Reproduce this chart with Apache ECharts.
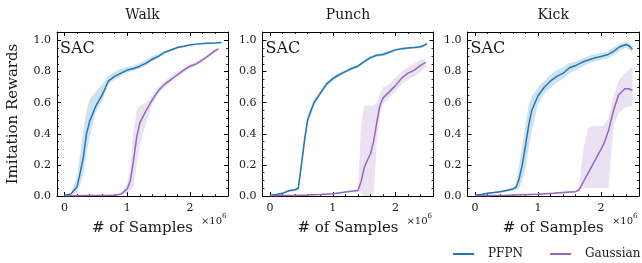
<!DOCTYPE html>
<html><head><meta charset="utf-8">
<script src="https://cdn.jsdelivr.net/npm/echarts@6/dist/echarts.min.js"></script>
<style>html,body{margin:0;padding:0;background:#fff}#c{width:642px;height:263px}</style>
</head><body><div id="c"></div>
<script>
// ---------- data ----------
const panelTitles = ['Walk', 'Punch', 'Kick'];
const seriesNames = ['PFPN', 'Gaussian'];
const xMajorTicks = [0, 1, 2];
const xMinorTicks = [0.2, 0.4, 0.6, 0.8, 1.2, 1.4, 1.6, 1.8, 2.2, 2.4];
const yMajorTicks = [0, 0.2, 0.4, 0.6, 0.8, 1.0];
const yMinorTicks = [0.05, 0.1, 0.15, 0.25, 0.3, 0.35, 0.45, 0.5, 0.55, 0.65, 0.7, 0.75, 0.85, 0.9, 0.95];

// Walk
const walkX     = [0,0.1,0.2,0.25,0.3,0.35,0.4,0.5,0.6,0.7,0.8,0.9,1.0,1.1,1.2,1.3,1.4,1.5,1.6,1.7,1.8,1.9,2.0,2.1,2.2,2.3,2.4,2.5];
const walkPFPN  = [0.005,0.012,0.06,0.15,0.25,0.40,0.48,0.58,0.65,0.74,0.77,0.79,0.81,0.82,0.835,0.855,0.88,0.90,0.925,0.94,0.955,0.963,0.972,0.977,0.981,0.983,0.985,0.988];
const walkPFPNLo= [0.0,0.005,0.03,0.07,0.14,0.28,0.38,0.54,0.61,0.72,0.75,0.77,0.795,0.805,0.82,0.84,0.865,0.89,0.915,0.93,0.947,0.957,0.966,0.972,0.977,0.98,0.982,0.985];
const walkPFPNHi= [0.01,0.02,0.12,0.27,0.42,0.55,0.62,0.67,0.72,0.77,0.80,0.82,0.83,0.84,0.855,0.875,0.9,0.915,0.935,0.95,0.962,0.97,0.977,0.982,0.985,0.987,0.989,0.992];
const walkGX     = [0,0.2,0.4,0.6,0.8,0.9,1.0,1.05,1.1,1.15,1.2,1.3,1.4,1.5,1.6,1.7,1.8,1.9,2.0,2.1,2.2,2.3,2.4,2.45];
const walkGauss  = [0.002,0.002,0.003,0.003,0.005,0.012,0.045,0.10,0.23,0.38,0.47,0.55,0.62,0.68,0.72,0.75,0.78,0.81,0.835,0.85,0.875,0.905,0.935,0.947];
const walkGaussLo= [0,0,0,0,0,0.003,0.02,0.04,0.06,0.20,0.33,0.47,0.59,0.66,0.70,0.735,0.765,0.795,0.82,0.84,0.865,0.895,0.925,0.94];
const walkGaussHi= [0.004,0.004,0.005,0.006,0.01,0.025,0.08,0.2,0.42,0.55,0.58,0.6,0.65,0.70,0.74,0.77,0.80,0.825,0.85,0.865,0.89,0.915,0.945,0.952];

// Punch
const punchX     = [0,0.1,0.2,0.3,0.4,0.45,0.5,0.55,0.6,0.7,0.8,0.9,1.0,1.1,1.2,1.3,1.4,1.5,1.6,1.7,1.8,1.9,2.0,2.1,2.2,2.3,2.4,2.45,2.5];
const punchPFPN  = [0.005,0.01,0.017,0.034,0.04,0.05,0.2,0.36,0.49,0.6,0.66,0.72,0.755,0.78,0.80,0.82,0.835,0.865,0.89,0.905,0.91,0.925,0.94,0.948,0.952,0.955,0.96,0.968,0.98];
const punchPFPNLo= [0.0,0.005,0.01,0.027,0.033,0.04,0.16,0.32,0.46,0.58,0.645,0.705,0.74,0.768,0.79,0.81,0.825,0.855,0.88,0.895,0.9,0.915,0.932,0.94,0.944,0.948,0.952,0.96,0.972];
const punchPFPNHi= [0.01,0.015,0.024,0.04,0.047,0.06,0.24,0.4,0.52,0.62,0.675,0.735,0.77,0.792,0.81,0.83,0.845,0.875,0.9,0.915,0.92,0.935,0.948,0.956,0.96,0.962,0.968,0.976,0.988];
const punchGX     = [0,0.2,0.4,0.6,0.8,1.0,1.1,1.2,1.3,1.4,1.45,1.5,1.55,1.6,1.65,1.7,1.75,1.8,1.9,2.0,2.1,2.2,2.3,2.4,2.48];
const punchGauss  = [0.002,0.003,0.004,0.006,0.01,0.015,0.02,0.025,0.03,0.035,0.09,0.18,0.23,0.27,0.35,0.47,0.58,0.63,0.67,0.71,0.76,0.79,0.81,0.84,0.86];
const punchGaussLo= [0,0.001,0.002,0.004,0.007,0.01,0.015,0.02,0.025,0.028,0.02,0.0,0.0,0.0,0.02,0.33,0.52,0.59,0.63,0.67,0.72,0.75,0.77,0.80,0.83];
const punchGaussHi= [0.004,0.005,0.006,0.008,0.013,0.02,0.025,0.03,0.035,0.045,0.45,0.58,0.58,0.58,0.58,0.6,0.66,0.7,0.72,0.76,0.80,0.83,0.85,0.88,0.89];

// Kick
const kickX     = [0,0.1,0.2,0.3,0.4,0.5,0.6,0.65,0.7,0.75,0.8,0.85,0.9,1.0,1.1,1.2,1.3,1.4,1.5,1.6,1.7,1.8,1.9,2.0,2.1,2.2,2.3,2.4,2.45,2.5];
const kickPFPN  = [0.005,0.01,0.017,0.022,0.028,0.035,0.045,0.055,0.11,0.2,0.32,0.45,0.55,0.645,0.70,0.74,0.77,0.79,0.825,0.84,0.86,0.875,0.888,0.898,0.908,0.93,0.96,0.975,0.965,0.944];
const kickPFPNLo= [0.002,0.006,0.012,0.017,0.022,0.028,0.035,0.04,0.05,0.1,0.17,0.3,0.42,0.59,0.66,0.70,0.73,0.755,0.79,0.81,0.83,0.85,0.865,0.875,0.885,0.905,0.935,0.955,0.94,0.92];
const kickPFPNHi= [0.008,0.014,0.022,0.027,0.034,0.042,0.055,0.08,0.2,0.32,0.45,0.58,0.64,0.70,0.74,0.78,0.81,0.83,0.855,0.865,0.885,0.9,0.91,0.92,0.93,0.955,0.98,0.99,0.985,0.965];
const kickGX     = [0,0.5,1.0,1.25,1.5,1.6,1.65,1.72,1.8,1.88,1.96,2.04,2.12,2.2,2.28,2.38,2.44,2.5];
const kickGauss  = [0.001,0.005,0.012,0.017,0.026,0.028,0.04,0.09,0.15,0.21,0.27,0.33,0.42,0.55,0.65,0.69,0.69,0.68];
const kickGaussLo= [0,0.002,0.008,0.012,0.02,0.022,0.03,0.05,0.05,0.05,0.05,0.05,0.05,0.45,0.53,0.57,0.575,0.575];
const kickGaussHi= [0.002,0.008,0.016,0.022,0.032,0.035,0.06,0.3,0.44,0.45,0.45,0.45,0.5,0.64,0.74,0.79,0.81,0.83];

// ---------- chart ----------
const FONT = '"DejaVu Serif", serif';
const TXT = '#1a1a1a';
const BLUE = '#1f77b4', PURPLE = '#9467bd';
const BLUE_BAND = 'rgba(31,119,180,0.22)', PURPLE_BAND = 'rgba(148,103,189,0.20)';
const XMIN = -0.12, XMAX = 2.605, YMIN = 0, YMAX = 1.055;
const grids = [
  {left: 57, top: 32, width: 171, height: 164},
  {left: 262.5, top: 32, width: 171, height: 164},
  {left: 467.5, top: 32, width: 171.5, height: 164}
];
const panels = [
  {pX: walkX, p: walkPFPN, pLo: walkPFPNLo, pHi: walkPFPNHi, gX: walkGX, g: walkGauss, gLo: walkGaussLo, gHi: walkGaussHi},
  {pX: punchX, p: punchPFPN, pLo: punchPFPNLo, pHi: punchPFPNHi, gX: punchGX, g: punchGauss, gLo: punchGaussLo, gHi: punchGaussHi},
  {pX: kickX, p: kickPFPN, pLo: kickPFPNLo, pHi: kickPFPNHi, gX: kickGX, g: kickGauss, gLo: kickGaussLo, gHi: kickGaussHi}
];

const pair = (xs, ys) => xs.map((x, i) => [x, ys[i]]);
const triple = (xs, lo, hi) => xs.map((x, i) => [x, lo[i], hi[i]]);

const xAxis = [], yAxis = [], series = [], graphic = [];
grids.forEach((gr, g) => {
  const lineOn = {show: true, onZero: false, lineStyle: {color: '#000', width: 1}};
  const tickMaj = (vals) => ({show: true, inside: true, length: 4, customValues: vals, lineStyle: {color: '#000', width: 1}});
  const tickMin = (vals) => ({show: true, inside: true, length: 2, customValues: vals, lineStyle: {color: '#000', width: 0.8}});
  const xb = {gridIndex: g, type: 'value', min: XMIN, max: XMAX, splitLine: {show: false}, axisLine: {show: false, onZero: false}, axisLabel: {show: false}, axisTick: {show: false}};
  const yb = {gridIndex: g, type: 'value', min: YMIN, max: YMAX, splitLine: {show: false}, axisLine: {show: false, onZero: false}, axisLabel: {show: false}, axisTick: {show: false}};
  xAxis.push(Object.assign({}, xb, {position: 'bottom', axisLine: lineOn, axisTick: tickMaj(xMajorTicks),
    axisLabel: {show: true, customValues: xMajorTicks, margin: 7, fontFamily: FONT, fontSize: 11, color: TXT, formatter: v => String(Math.round(v))},
    name: '# of Samples', nameLocation: 'middle', nameGap: 25, nameTextStyle: {fontFamily: FONT, fontSize: 15, color: TXT}}));
  xAxis.push(Object.assign({}, xb, {position: 'bottom', axisTick: tickMin(xMinorTicks)}));
  xAxis.push(Object.assign({}, xb, {position: 'top', axisLine: lineOn, axisTick: tickMaj(xMajorTicks)}));
  xAxis.push(Object.assign({}, xb, {position: 'top', axisTick: tickMin(xMinorTicks)}));
  const yMain = Object.assign({}, yb, {position: 'left', axisLine: lineOn, axisTick: tickMaj(yMajorTicks),
    axisLabel: {show: true, customValues: yMajorTicks, margin: 6, fontFamily: FONT, fontSize: 11, color: TXT, formatter: v => v.toFixed(1)}});
  if (g === 0) Object.assign(yMain, {name: 'Imitation Rewards', nameLocation: 'middle', nameRotate: 90, nameGap: 36,
    nameTextStyle: {fontFamily: FONT, fontSize: 15, color: TXT}});
  yAxis.push(yMain);
  yAxis.push(Object.assign({}, yb, {position: 'left', axisTick: tickMin(yMinorTicks)}));
  yAxis.push(Object.assign({}, yb, {position: 'right', axisLine: lineOn, axisTick: tickMaj(yMajorTicks)}));
  yAxis.push(Object.assign({}, yb, {position: 'right', axisTick: tickMin(yMinorTicks)}));

  const P = panels[g];
  const ax = {xAxisIndex: g * 4, yAxisIndex: g * 4, silent: true, animation: false};
  const band = (name, xs, lo, hi, color) => {
    const pts = triple(xs, lo, hi);
    series.push(Object.assign({}, ax, {
      type: 'custom', name: name + '_band' + g, data: pts, encode: {x: 0, y: [1, 2]}, clip: true, z: 1,
      renderItem: (params, api) => {
        if (params.dataIndex !== 0) return null;
        const up = pts.map(d => api.coord([d[0], d[2]]));
        const dn = pts.slice().reverse().map(d => api.coord([d[0], d[1]]));
        return {type: 'polygon', shape: {points: up.concat(dn)}, style: {fill: color}};
      }
    }));
  };
  band('p', P.pX, P.pLo, P.pHi, BLUE_BAND);
  band('g', P.gX, P.gLo, P.gHi, PURPLE_BAND);
  series.push(Object.assign({}, ax, {type: 'line', symbol: 'none', name: seriesNames[0], data: pair(P.pX, P.p), lineStyle: {color: BLUE, width: 1.5}, itemStyle: {color: BLUE}, z: 3}));
  series.push(Object.assign({}, ax, {type: 'line', symbol: 'none', name: seriesNames[1], data: pair(P.gX, P.g), lineStyle: {color: PURPLE, width: 1.5}, itemStyle: {color: PURPLE}, z: 3}));

  const cx = gr.left + gr.width / 2, right = gr.left + gr.width;
  graphic.push({type: 'text', x: cx, y: 15, style: {text: panelTitles[g], font: '14px ' + FONT, fill: TXT, align: 'center', verticalAlign: 'middle', textAlign: 'center', textVerticalAlign: 'middle'}});
  graphic.push({type: 'text', x: gr.left + 3, y: 49, style: {text: 'SAC', font: '16px ' + FONT, fill: TXT, align: 'left', verticalAlign: 'middle', textAlign: 'left', textVerticalAlign: 'middle'}});
  graphic.push({type: 'text', x: right - 6, y: 221, style: {text: '×10', font: '10px ' + FONT, fill: TXT, align: 'right', verticalAlign: 'middle', textAlign: 'right', textVerticalAlign: 'middle'}});
  graphic.push({type: 'text', x: right - 6, y: 216.5, style: {text: '6', font: '7px ' + FONT, fill: TXT, align: 'left', verticalAlign: 'middle', textAlign: 'left', textVerticalAlign: 'middle'}});
});

const chart = echarts.init(document.getElementById('c'), null, {renderer: 'canvas'});
chart.setOption({
  animation: false,
  backgroundColor: '#fff',
  grid: grids,
  xAxis: xAxis,
  yAxis: yAxis,
  legend: {data: seriesNames, left: 453, top: 248, padding: 0, icon: 'rect', itemWidth: 21, itemHeight: 2, itemGap: 27,
    textStyle: {fontFamily: FONT, fontSize: 12, color: TXT, padding: [0, 0, 0, 9]}, selectedMode: false},
  series: series,
  graphic: graphic
});
</script></body></html>
